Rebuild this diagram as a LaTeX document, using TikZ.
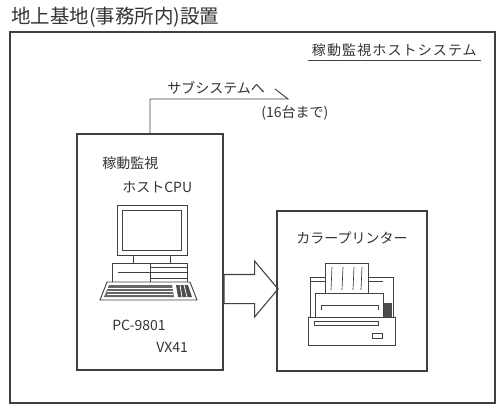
\documentclass[tikz,border=0pt]{standalone}
\usepackage{fontspec}
\newfontfamily\jpfont{Noto Sans CJK JP}
\newfontfamily\jpwide[LetterSpace=8]{Noto Sans CJK JP}
\usetikzlibrary{shapes.arrows}

\begin{document}
\begin{tikzpicture}[x=0.75pt,y=-0.75pt]
		\tikzstyle{txt}=[inner sep=0pt,text=black!80,font=\jpfont\fontsize{10.5}{12}\selectfont]
		\tikzstyle{box}=[draw=black!75,line width=0.8pt,inner sep=0pt]
		\tikzstyle{fat}=[single arrow,draw=black!75,line width=0.8pt,inner sep=10.5pt,minimum height=40.5pt,single arrow head extend=10.1pt,single arrow tip angle=100]
		\tikzstyle{ln}=[draw=black!75,line width=0.7pt]
		\useasboundingbox (0,0) rectangle (496,405);
		% outer frame and headings
		\node[txt,anchor=west,font=\jpfont\fontsize{14.6}{16}\selectfont] (title) at (11,17) {地上基地(事務所内)設置};
		\draw[ln,line width=0.9pt] (10,32) rectangle (495,403);
		\node[txt,anchor=east,inner sep=3pt,font=\jpwide\fontsize{10.5}{12}\selectfont] (sys) at (481,50) {稼動監視ホストシステム};
		\draw[ln,line width=1pt] (sys.south west) -- (sys.south east);
		% the two boxes and the arrow between them
		\node[box,minimum width=109.5pt,minimum height=177pt] (host_box) at (150,252) {};
		\node[box,minimum width=112.5pt,minimum height=120pt] (prn_box) at (352,291) {};
		\node[fat,anchor=tail] (feed) at (host_box.east |- 0,289) {};
		% line out to the subsystems
		\coordinate (sub_end) at (288,99);
		\draw[ln] (host_box.north) |- (sub_end) -- ++(-13,-10);
		\node[txt,anchor=west] (sub) at (167,88) {サブシステムへ};
		\node[txt,anchor=west] (count) at (261,113) {(16台まで)};
		% host labels
		\node[txt,anchor=west] (host_t) at (102,163) {稼動監視};
		\node[txt,anchor=west] (host_cpu) at (122,187) {ホストCPU};
		\node[txt,anchor=west] (model_a) at (112,325) {PC-9801};
		\node[txt,anchor=west] (model_b) at (156,347) {VX41};
		\node[txt] (prn_t) at (352,238) {カラープリンター};
		% personal computer
		\draw[ln] (117,205) rectangle (187,255);
		\draw[ln] (122,210) rectangle (181,250);
		\draw[ln] (133,255) rectangle (170,263);
		\draw[ln] (112,263) rectangle (187,282);
		\draw[ln] (150,263) -- (150,282);
		\draw[ln] (150,267) -- (187,267) (150,272) -- (187,272) (150,278) -- (187,278);
		\draw[ln] (118,272) -- (150,272);
		\draw[ln,fill=white] (107,282) -- (190,282) -- (197,300) -- (100,300) -- cycle;
		\fill[black!60] (109,285) -- (172,285) -- (174,297) -- (104,297) -- cycle;
		\fill[black!70] (176,285) -- (188,285) -- (192,297) -- (178,297) -- cycle;
		\foreach \y in {288,291,294}
			\draw[white,line width=0.4pt] (107,\y) -- (173,\y);
		\draw[white,line width=0.6pt] (180,285) -- (182,297) (184,285) -- (187,297);
		% printer
		\draw[ln] (310,277) -- (325,277) (368,277) -- (393,277) -- (393,317);
		\draw[ln] (310,277) -- (310,317);
		\draw[ln] (310,281) -- (325,281) (368,281) -- (383,281);
		\draw[ln,fill=white] (325,263) rectangle (368,293);
		\foreach \x in {332,343,354,362}
			\draw[ln,line width=0.5pt] (\x,267) -- (\x-1,290);
		\draw[ln] (315,293) rectangle (383,317);
		\draw[ln] (321,310) -- (321,305) -- (378,305) -- (378,310);
		\fill[black!70] (384,303) rectangle (392,317);
		\draw[ln] (308,317) rectangle (395,345);
		\draw[ln] (314,321) rectangle (378,325);
		\draw[ln] (372,333) rectangle (382,338);
	\end{tikzpicture}
\end{document}
